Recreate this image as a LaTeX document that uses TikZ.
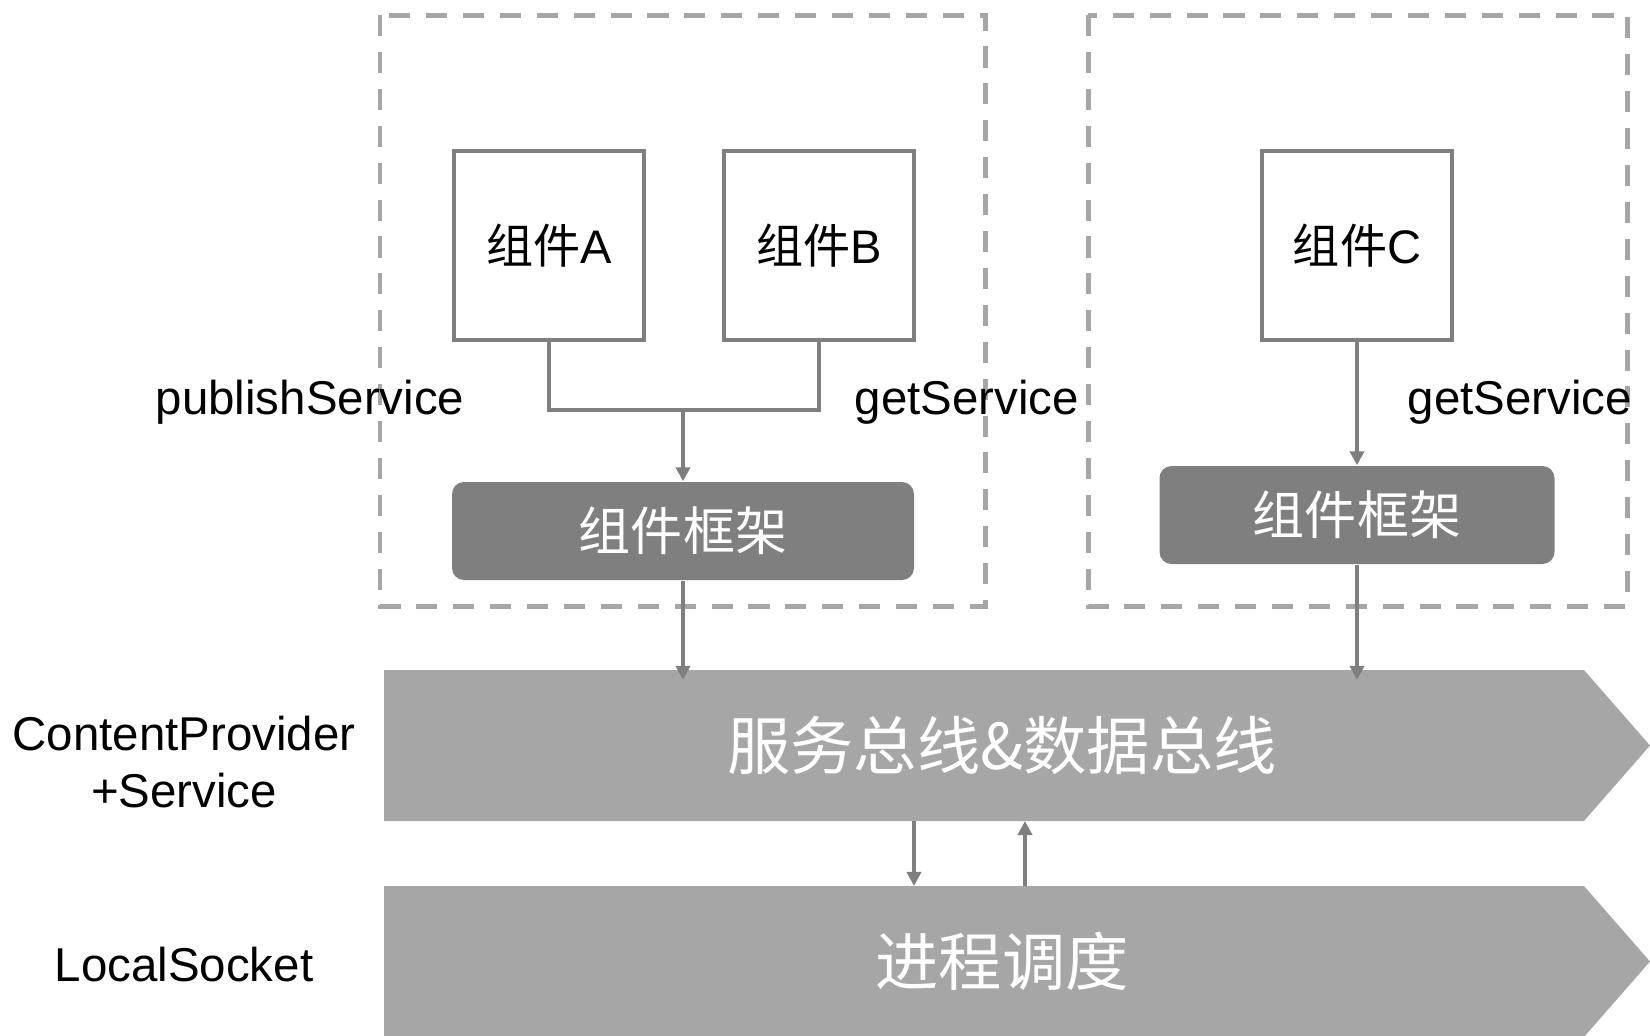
\documentclass[tikz,border=0pt]{standalone}
\usepackage{fontspec}
\setmainfont{Liberation Sans}
\newfontfamily\cjk{Noto Sans CJK SC}
\usetikzlibrary{arrows.meta, positioning}

\begin{document}
\begin{tikzpicture}[>={Triangle[length=4pt, width=4pt]}]

\definecolor{dashgray}{RGB}{166, 166, 166}
\definecolor{boxgray}{RGB}{127, 127, 127}
\definecolor{framegray}{RGB}{127, 127, 127}
\definecolor{busgray}{RGB}{166, 166, 166}

\useasboundingbox (0,0) rectangle (16.5,-10.35);

\tikzset{
    procbox/.style={
        draw=dashgray, line width=1.42pt, dash pattern=on 6pt off 4.5pt
    },
    comp/.style={
        draw=boxgray, line width=1.15pt, fill=white,
        minimum width=1.9cm, minimum height=1.89cm, inner sep=0pt,
        font=\fontsize{13.4}{16}\selectfont
    },
    framework/.style={
        fill=framegray, rounded corners=0.12cm, text=white,
        minimum height=0.98cm, inner sep=0pt,
        font=\cjk\fontsize{14.8}{17}\selectfont
    },
    layer/.style={
        text=white, minimum width=12cm, minimum height=1.51cm,
        inner sep=0pt, outer sep=0pt, font=\cjk\fontsize{18}{22}\selectfont
    },
    apitext/.style={
        font=\fontsize{13.5}{16.2}\selectfont, align=center, inner sep=0pt
    },
    link/.style={
        draw=boxgray, line width=1.15pt
    },
    call/.style={
        draw=boxgray, line width=1pt, ->
    }
}

% --- PROCESS 1: components A and B ---
\draw[procbox] (3.80,-0.15) rectangle (9.85,-6.06);

\node[comp] (compA) at (5.49,-2.455) {{\cjk 组件}A};
\node[comp, right=0.76cm of compA] (compB) {{\cjk 组件}B};
\node[framework, minimum width=4.62cm] (frameL) at (6.83,-5.31) {组件框架};

\coordinate (join) at (6.83,-4.10);
\draw[link] (compA.south) |- (join) -| (compB.south);
\draw[call] (join) -- (frameL.north);

% --- PROCESS 2: component C ---
\draw[procbox] (10.88,-0.15) rectangle (16.27,-6.06);

\node[comp] (compC) at (13.57,-2.455) {{\cjk 组件}C};
\node[framework, minimum width=3.95cm] (frameR) at (13.57,-5.15) {组件框架};
\draw[call] (compC) -- (frameR);

% API names
\node[apitext, anchor=base] (publish) at (3.10,-4.14) {publishService};
\node[apitext, anchor=base] (getL) at (9.67,-4.14) {getService};
\node[apitext, anchor=base] (getR) at (15.20,-4.14) {getService};

% --- BUS LAYERS ---
\fill[busgray] (3.84,-6.70) -- (15.84,-6.70) -- (16.50,-7.455) -- (15.84,-8.21) -- (3.84,-8.21) -- cycle;
\node[layer] (bus) at (10.02,-7.455) {服务总线\&数据总线};

\fill[busgray] (3.84,-8.86) -- (15.84,-8.86) -- (16.50,-9.615) -- (15.84,-10.37) -- (3.84,-10.37) -- cycle;
\node[layer] (sched) at (10.02,-9.615) {进程调度};

\draw[call, shorten >=-0.1cm] (frameL.south) -- (frameL.south |- bus.north);
\draw[call, shorten >=-0.1cm] (frameR.south) -- (frameR.south |- bus.north);

\draw[call] ([xshift=-0.88cm]bus.south) -- ([xshift=-0.88cm]sched.north);
\draw[call] ([xshift=0.23cm]sched.north) -- ([xshift=0.23cm]bus.south);

% layer names
\node[apitext] (cpLabel) at (1.84,-7.62) {ContentProvider\\+Service};
\node[apitext, anchor=base] (lsLabel) at (1.84,-9.81) {LocalSocket};

\end{tikzpicture}
\end{document}
